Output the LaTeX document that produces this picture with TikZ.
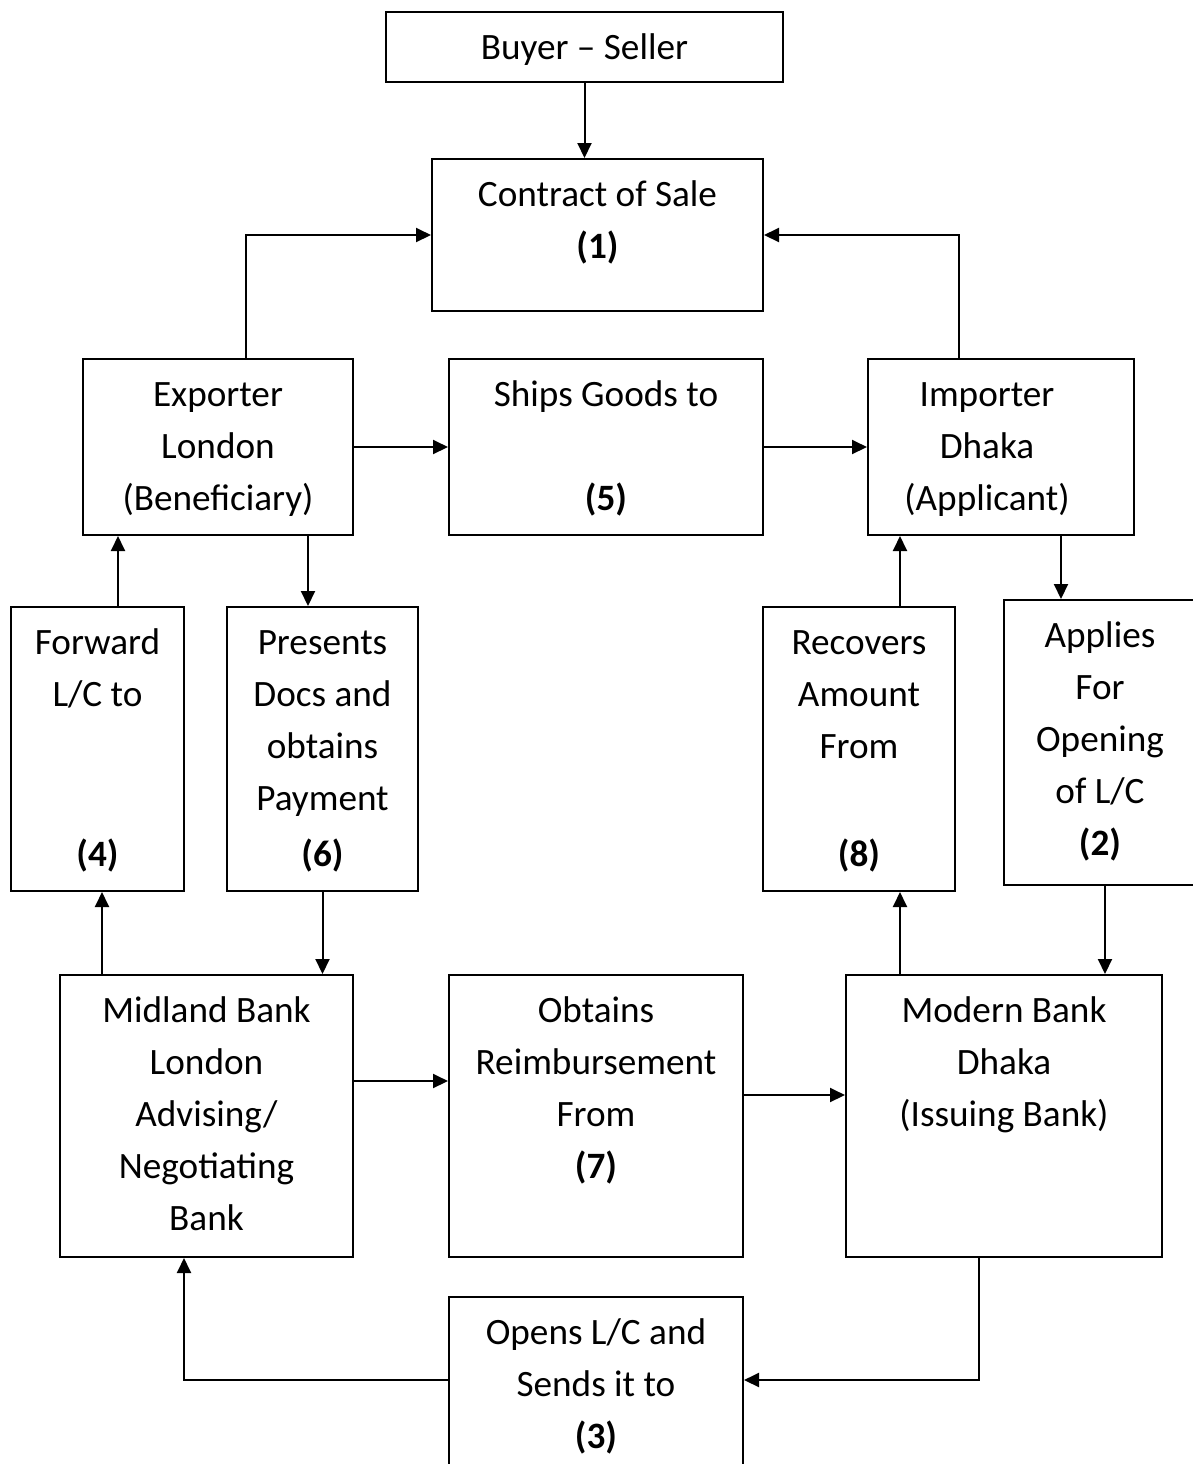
\documentclass[tikz,border=0pt]{standalone}
\usepackage{fontspec}
\setmainfont{Carlito}
\usetikzlibrary{arrows.meta,positioning,calc}

\begin{document}
\begin{tikzpicture}[
  x=0.5pt,y=-0.5pt,
  every node/.style={font=\fontsize{18.6pt}{26pt}\selectfont},
  box/.style={draw,line width=1pt,inner sep=0pt},
  txt/.style={anchor=north,align=center,inner sep=0pt},
  arr/.style={-{Triangle[length=7.5pt,width=7pt]},line width=1pt}
]
\clip (0,0) rectangle (1193,1464);
% boxes
\node[box,minimum width=198.5pt,minimum height=35pt] (buyer) at (584.5,47) {};
\node[box,minimum width=165.5pt,minimum height=76pt] (contract) at (597.5,235) {};
\node[box,minimum width=135pt,minimum height=88pt] (exporter) at (218,447) {};
\node[box,minimum width=157pt,minimum height=88pt] (ships) at (606,447) {};
\node[box,minimum width=133pt,minimum height=88pt] (importer) at (1001,447) {};
\node[box,minimum width=86.5pt,minimum height=142pt] (forward) at (97.5,749) {};
\node[box,minimum width=95.5pt,minimum height=142pt] (presents) at (322.5,749) {};
\node[box,minimum width=96pt,minimum height=142pt] (recovers) at (859,749) {};
\node[box,minimum width=96pt,minimum height=142.5pt] (applies) at (1100,742.5) {};
\node[box,minimum width=146.5pt,minimum height=141pt] (midland) at (206.5,1116) {};
\node[box,minimum width=147pt,minimum height=141pt] (obtains) at (596,1116) {};
\node[box,minimum width=158pt,minimum height=141pt] (modern) at (1004,1116) {};
\node[box,minimum width=147pt,minimum height=91.5pt] (opens) at (596,1388.5) {};

% texts
\node[txt] (buyertxt) at ([yshift=-5.8pt]buyer.north) {\strut Buyer -- Seller};
\node[txt] (contracttxt) at ([yshift=-5.8pt]contract.north) {\strut Contract of Sale\\\textbf{(1)}};
\node[txt] (exportertxt) at ([yshift=-5.8pt]exporter.north) {\strut Exporter\\London\\(Beneficiary)};
\node[txt] (shipstxt) at ([yshift=-5.8pt]ships.north) {\strut Ships Goods to\\\strut\\\textbf{(5)}};
\node[txt] (importertxt) at ([xshift=-7pt,yshift=-5.8pt]importer.north) {\strut Importer\\Dhaka\\(Applicant)};
\node[txt] (forwardtxt) at ([yshift=-5.8pt]forward.north) {\strut Forward\\L/C to\\\strut\\\strut\\[2pt]\textbf{(4)}};
\node[txt] (presentstxt) at ([yshift=-5.8pt]presents.north) {\strut Presents\\Docs and\\obtains\\Payment\\[2pt]\textbf{(6)}};
\node[txt] (recoverstxt) at ([yshift=-5.8pt]recovers.north) {\strut Recovers\\Amount\\From\\\strut\\[2pt]\textbf{(8)}};
\node[txt] (appliestxt) at ([yshift=-5.8pt]applies.north) {\strut Applies\\For\\Opening\\of L/C\\\textbf{(2)}};
\node[txt] (midlandtxt) at ([yshift=-5.8pt]midland.north) {\strut Midland Bank\\London\\Advising/\\Negotiating\\Bank};
\node[txt] (obtainstxt) at ([yshift=-5.8pt]obtains.north) {\strut Obtains\\Reimbursement\\From\\\textbf{(7)}};
\node[txt] (moderntxt) at ([yshift=-5.8pt]modern.north) {\strut Modern Bank\\Dhaka\\(Issuing Bank)};
\node[txt] (openstxt) at ([yshift=-5.8pt]opens.north) {\strut Opens L/C and\\Sends it to\\\textbf{(3)}};

% connectors
\draw[arr] (buyer.south) -- (buyer.south |- contract.north);
\draw[arr] ([xshift=14pt]exporter.north) |- (contract.west);
\draw[arr] ([xshift=-21pt]importer.north) |- (contract.east);
\draw[arr] (exporter.east) -- (ships.west);
\draw[arr] (ships.east) -- (importer.west);
\draw[arr] ([xshift=10.25pt]forward.north) -- ([xshift=10.25pt]forward.north |- exporter.south);
\draw[arr] ([xshift=-7.25pt]presents.north |- exporter.south) -- ([xshift=-7.25pt]presents.north);
\draw[arr] ([xshift=20.5pt]recovers.north) -- ([xshift=20.5pt]recovers.north |- importer.south);
\draw[arr] ([xshift=-19.5pt]applies.north |- importer.south) -- ([xshift=-19.5pt]applies.north);
\draw[arr] ([xshift=2.25pt]forward.south |- midland.north) -- ([xshift=2.25pt]forward.south);
\draw[arr] (presents.south) -- (presents.south |- midland.north);
\draw[arr] ([xshift=20.5pt]recovers.south |- modern.north) -- ([xshift=20.5pt]recovers.south);
\draw[arr] ([xshift=2.5pt]applies.south) -- ([xshift=2.5pt]applies.south |- modern.north);
\draw[arr] ([yshift=17.5pt]midland.east) -- ([yshift=17.5pt]midland.east -| obtains.west);
\draw[arr] ([yshift=10.5pt]obtains.east) -- ([yshift=10.5pt]obtains.east -| modern.west);
\draw[arr] ([xshift=-12.5pt]modern.south) |- ([yshift=4.25pt]opens.east);
\draw[arr] ([yshift=4.25pt]opens.west) -| ([xshift=-11.25pt]midland.south);
\end{tikzpicture}
\end{document}
